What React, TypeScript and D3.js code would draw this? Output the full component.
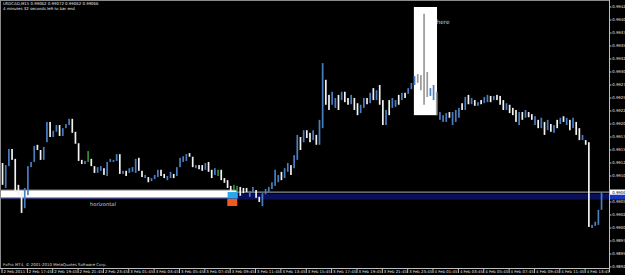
import React from "react";
import * as d3 from "d3";

const W = 625;
const H = 275;

const highs = [
  0.99125, 0.99121, 0.99152, 0.99152, 0.99133, 0.99083, 0.99069, 0.99077, 0.99119, 0.99127,
  0.99158, 0.9916, 0.9915, 0.99156, 0.99204, 0.99204, 0.99187, 0.99198, 0.99198, 0.99192,
  0.992, 0.9921, 0.9921, 0.99185, 0.99163, 0.99131, 0.99129, 0.99148, 0.99133, 0.99119,
  0.99117, 0.99119, 0.99115, 0.99127, 0.99133, 0.99131, 0.99142, 0.99142, 0.9911, 0.9911,
  0.99115, 0.99117, 0.99133, 0.99135, 0.9911, 0.99102, 0.99098, 0.99096, 0.99102, 0.99112,
  0.99112, 0.99104, 0.991, 0.99108, 0.99104, 0.99117, 0.99135, 0.99138, 0.99142, 0.99144,
  0.99137, 0.99121, 0.99121, 0.99121, 0.99125, 0.99127, 0.99112, 0.99115, 0.99112, 0.99112,
  0.99096, 0.99092, 0.99081, 0.99083, 0.99081, 0.99079, 0.99077, 0.99077, 0.99071, 0.99079,
  0.99073, 0.9906, 0.99067, 0.99075, 0.99079, 0.99088, 0.99112, 0.99102, 0.99108, 0.99115,
  0.99125, 0.99121, 0.9914, 0.99179, 0.99175, 0.99188, 0.99188, 0.99183, 0.99188, 0.99179,
  0.99208, 0.99317, 0.99285, 0.99256, 0.99262, 0.9925, 0.99256, 0.99262, 0.99262, 0.9925,
  0.99256, 0.9925, 0.9924, 0.99237, 0.9925, 0.9925, 0.9926, 0.99269, 0.99265, 0.99275,
  0.99246, 0.99227, 0.99246, 0.9925, 0.99246, 0.99256, 0.9926, 0.9926, 0.99269, 0.99279,
  0.99292, 0.99296, 0.99294, 0.99412, 0.993, 0.99269, 0.99275, 0.99262, 0.99223, 0.99217,
  0.99221, 0.99223, 0.99223, 0.99227, 0.99231, 0.9924, 0.99252, 0.99256, 0.9925, 0.99246,
  0.99242, 0.99246, 0.99252, 0.99256, 0.99254, 0.99254, 0.99256, 0.99254, 0.99246, 0.9924,
  0.99237, 0.99231, 0.99227, 0.99223, 0.99223, 0.99227, 0.99223, 0.99219, 0.99215, 0.99208,
  0.99212, 0.99204, 0.99208, 0.992, 0.99198, 0.99208, 0.99212, 0.99215, 0.99212, 0.99208,
  0.99212, 0.99204, 0.99192, 0.99179, 0.99169, 0.99165, 0.99006, 0.99012, 0.99035, 0.99069,
];

const lows = [
  0.99083, 0.99077, 0.99119, 0.99131, 0.99069, 0.99063, 0.99029, 0.99038, 0.99063, 0.99117,
  0.99127, 0.9915, 0.99131, 0.99131, 0.99165, 0.99175, 0.99175, 0.99185, 0.99177, 0.99177,
  0.99192, 0.99198, 0.99183, 0.99162, 0.99129, 0.99123, 0.99123, 0.99127, 0.99119, 0.99106,
  0.99106, 0.9911, 0.99102, 0.991, 0.99127, 0.99127, 0.99129, 0.99104, 0.99104, 0.991,
  0.99106, 0.99108, 0.99106, 0.9911, 0.99098, 0.99096, 0.99088, 0.9909, 0.99094, 0.99098,
  0.991, 0.99096, 0.99092, 0.99096, 0.99096, 0.991, 0.99117, 0.99127, 0.99129, 0.99137,
  0.99117, 0.99115, 0.99113, 0.9911, 0.99112, 0.99108, 0.99096, 0.99102, 0.991, 0.99092,
  0.99087, 0.99077, 0.99069, 0.99073, 0.99071, 0.99062, 0.99067, 0.99069, 0.9906, 0.99067,
  0.99058, 0.9905, 0.99042, 0.99065, 0.99069, 0.99075, 0.99081, 0.99088, 0.99092, 0.99096,
  0.99108, 0.99102, 0.99115, 0.99131, 0.9915, 0.99165, 0.99173, 0.99165, 0.99169, 0.9916,
  0.9916, 0.99192, 0.99237, 0.99227, 0.99237, 0.99231, 0.99227, 0.99246, 0.99242, 0.99237,
  0.99238, 0.99227, 0.99217, 0.99221, 0.99231, 0.99238, 0.9924, 0.99246, 0.99246, 0.99237,
  0.99198, 0.99198, 0.99217, 0.99231, 0.99233, 0.99237, 0.99246, 0.9925, 0.99258, 0.99267,
  0.99275, 0.99279, 0.99265, 0.99237, 0.99252, 0.99254, 0.99246, 0.99217, 0.99208, 0.99204,
  0.99204, 0.99212, 0.99198, 0.99204, 0.99212, 0.99227, 0.99227, 0.99238, 0.99238, 0.99235,
  0.99235, 0.99238, 0.9924, 0.99242, 0.99242, 0.99246, 0.99246, 0.99237, 0.99227, 0.99227,
  0.99221, 0.99217, 0.99204, 0.99198, 0.99208, 0.99212, 0.99213, 0.99208, 0.99198, 0.99192,
  0.99192, 0.99179, 0.99188, 0.99185, 0.99183, 0.99192, 0.992, 0.99204, 0.99198, 0.99188,
  0.99192, 0.99179, 0.99169, 0.99169, 0.9916, 0.99002, 0.99, 0.99004, 0.99006, 0.99035,
];

// u = up (blue), d = down (white), n = green
const kinds = [
  "d", "u", "u", "d", "d", "d", "d", "u", "u", "u",
  "u", "d", "d", "u", "u", "d", "u", "u", "d", "u",
  "u", "u", "d", "d", "d", "d", "u", "n", "d", "d",
  "u", "u", "d", "u", "u", "u", "u", "d", "u", "d",
  "u", "u", "u", "d", "d", "u", "d", "u", "u", "u",
  "d", "d", "u", "u", "d", "u", "u", "u", "u", "d",
  "d", "u", "d", "d", "u", "d", "d", "u", "n", "d",
  "d", "d", "d", "n", "n", "d", "d", "d", "u", "u",
  "d", "d", "u", "u", "u", "u", "u", "u", "d", "u",
  "u", "d", "u", "u", "d", "u", "d", "d", "u", "d",
  "u", "u", "d", "d", "u", "u", "d", "u", "d", "d",
  "u", "d", "d", "u", "u", "d", "u", "d", "u", "d",
  "d", "u", "d", "u", "u", "d", "u", "d", "u", "u",
  "u", "d", "d", "d", "d", "u", "u", "d", "u", "u",
  "u", "d", "u", "u", "u", "d", "u", "d", "u", "d",
  "u", "d", "u", "u", "d", "u", "d", "d", "d", "u",
  "d", "d", "d", "u", "d", "u", "d", "d", "u", "d",
  "u", "d", "u", "d", "u", "d", "u", "d", "u", "d",
  "u", "d", "d", "u", "d", "d", "u", "u", "u", "u",
];

const priceTicks = [
  0.99425, 0.994, 0.99375, 0.9935, 0.99325, 0.993, 0.99275, 0.9925, 0.99225, 0.992, 0.99175,
  0.9915, 0.99125, 0.991, 0.99075, 0.9905, 0.99025, 0.99, 0.98975, 0.9895, 0.98925,
];

const timeLabels = [
  "2 Feb 2011", "2 Feb 17:45", "2 Feb 19:45", "2 Feb 21:45", "2 Feb 23:45", "3 Feb 01:45",
  "3 Feb 03:45", "3 Feb 05:45", "3 Feb 07:45", "3 Feb 09:45", "3 Feb 11:45", "3 Feb 13:45",
  "3 Feb 15:45", "3 Feb 17:45", "3 Feb 19:45", "3 Feb 21:45", "3 Feb 23:45", "4 Feb 01:45",
  "4 Feb 03:45", "4 Feb 05:45", "4 Feb 07:45", "4 Feb 09:45", "4 Feb 11:45", "4 Feb 13:45",
];
const barsPerLabel = 8;

const bidPrice = 0.99069;
const lastPrice = 0.99066;
const hLinePrice = 0.9906;
const rectObj = { i0: -1, i1: 74, top: 0.99073, bottom: 0.99058 };
const boxObj = { i0: 129.8, i1: 137.1, top: 0.99425, bottom: 0.99217 };
const blueMark = { i: 72.6, price: 0.99063 };
const orangeMark = { i: 72.5, price: 0.99049 };

const header1 = "USDCAD,M15  0.99062 0.99072 0.99062 0.99066";
const header2 = "4 minutes 32 seconds left to bar end";
const copyright = "FxPro MT4, \u00a9 2001-2010 MetaQuotes Software Corp.";

export default function App() {
  const plotRight = 609;
  const plotBottom = 268;
  const x = d3.scaleLinear().domain([0, highs.length - 1]).range([2.5, 601.5]);
  const y = d3.scaleLinear().domain([0.98925, 0.99425]).range([267, 7]);
  const fmt = d3.format(".5f");
  const font = "Tahoma, 'DejaVu Sans', Arial, sans-serif";
  const fs = 3.9;

  const colorFor = (i: number) => {
    const k = kinds[i] || "u";
    const inBox = i >= boxObj.i0 && i <= boxObj.i1;
    if (k === "n") return "#2f8f2f";
    if (k === "d") return inBox ? "#9a9a9a" : "#f2f2f2";
    return "#4a7ec0";
  };

  const visibleTicks = priceTicks.filter((p) => Math.abs(y(p) - y(bidPrice)) > 5);

  return (
    <svg
      width={W}
      height={H}
      style={{ position: "absolute", left: 0, top: 0, background: "#000" }}
      fontFamily={font}
    >
      <rect x={0} y={0} width={W} height={H} fill="#000" />
      <rect x={0} y={y(hLinePrice) - 2.8} width={plotRight} height={5.6} fill="#0a0f5a" />
      <rect x={plotRight} y={y(hLinePrice) - 2.8} width={W - plotRight} height={5.6} fill="#1834b8" />
      <rect
        x={x(rectObj.i0)}
        y={y(rectObj.top)}
        width={x(rectObj.i1) - x(rectObj.i0)}
        height={y(rectObj.bottom) - y(rectObj.top)}
        fill="#ffffff"
        stroke="#8a8a8a"
        strokeWidth={1}
      />
      <rect
        x={x(boxObj.i0)}
        y={y(boxObj.top)}
        width={x(boxObj.i1) - x(boxObj.i0)}
        height={y(boxObj.bottom) - y(boxObj.top)}
        fill="#ffffff"
      />
      <line x1={x(rectObj.i1)} x2={plotRight} y1={y(bidPrice)} y2={y(bidPrice)} stroke="#b0b0b0" strokeWidth={1} />
      {highs.map((h, i) => {
        const top = y(h);
        const bot = y(lows[i]);
        return (
          <rect
            key={i}
            x={x(i) - 0.8}
            y={top}
            width={1.7}
            height={Math.max(1.5, bot - top)}
            fill={colorFor(i)}
          />
        );
      })}
      <rect x={x(blueMark.i) - 5} y={y(blueMark.price) - 3.2} width={10} height={6.4} fill="#2ba6ea" />
      <rect x={x(orangeMark.i) - 5} y={y(orangeMark.price) - 3.5} width={10} height={7} fill="#f05a1c" />
      <text x={90} y={206} fontSize={5.2} fill="#d0d0d0">horizontal</text>
      <text x={436.5} y={24} fontSize={5.8} fill="#c8c8c8">here</text>
      <line x1={0.5} x2={0.5} y1={0} y2={plotBottom} stroke="#8a8a8a" />
      <line x1={0} x2={plotRight} y1={0.5} y2={0.5} stroke="#8a8a8a" />
      <line x1={plotRight + 0.5} x2={plotRight + 0.5} y1={0} y2={plotBottom + 4} stroke="#bdbdbd" />
      <line x1={0} x2={plotRight + 1} y1={plotBottom + 0.5} y2={plotBottom + 0.5} stroke="#bdbdbd" />
      {visibleTicks.map((p) => (
        <g key={p}>
          <line x1={plotRight} x2={plotRight + 2.5} y1={y(p)} y2={y(p)} stroke="#bdbdbd" />
          <text x={plotRight + 3.2} y={y(p) + 1.4} fontSize={fs} fill="#e0e0e0">
            {fmt(p)}
          </text>
        </g>
      ))}
      <rect x={plotRight + 1} y={y(bidPrice) - 2.6} width={W - plotRight} height={5.2} fill="#ffffff" />
      <text x={plotRight + 3.2} y={y(bidPrice) + 1.4} fontSize={fs} fill="#000">
        {fmt(lastPrice)}
      </text>
      {timeLabels.map((t, k) => {
        const xx = x(k * barsPerLabel) - 1;
        return (
          <g key={t}>
            <line x1={xx + 0.5} x2={xx + 0.5} y1={plotBottom} y2={plotBottom + 5} stroke="#bdbdbd" />
            <text x={xx + 2} y={plotBottom + 4.6} fontSize={fs} fill="#e0e0e0">
              {t}
            </text>
          </g>
        );
      })}
      <text x={3} y={5} fontSize={fs} fill="#e8e8e8">{header1}</text>
      <text x={3} y={9.5} fontSize={fs} fill="#e8e8e8">{header2}</text>
      <text x={3} y={266} fontSize={fs} fill="#d8d8d8">{copyright}</text>
    </svg>
  );
}
